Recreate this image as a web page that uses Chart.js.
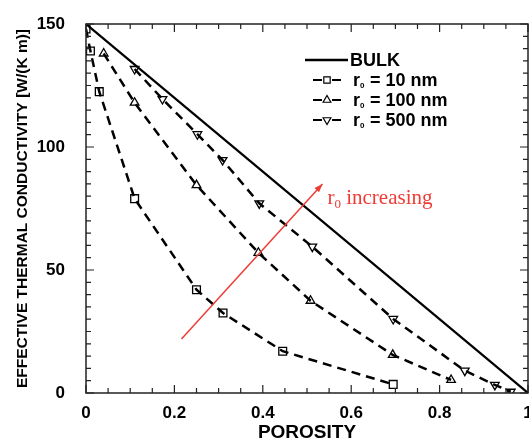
<!DOCTYPE html>
<html>
<head>
<meta charset="utf-8">
<script src="https://cdn.jsdelivr.net/npm/chart.js@4"></script>
<style>
  html, body { margin: 0; padding: 0; background: #fff; overflow: hidden; }
  #wrap { position: relative; width: 529px; height: 442px; }
</style>
</head>
<body>
<div id="wrap"><canvas id="chart"></canvas></div>
<script>
// values
var bulkPorosity = [0, 1];
var bulkK = [150, 0];

var porosity10 = [0, 0.01, 0.03, 0.11, 0.25, 0.31, 0.445, 0.695];
var k10 = [148, 139, 122.5, 79, 42, 32.5, 17, 3.5];

var porosity100 = [0.04, 0.11, 0.25, 0.39, 0.508, 0.694, 0.826];
var k100 = [138, 118, 84.5, 57, 37.5, 15.5, 5.3];

var porosity500 = [0.11, 0.173, 0.252, 0.309, 0.392, 0.512, 0.695, 0.857, 0.925, 0.961];
var k500 = [131.7, 119.5, 105.2, 94.7, 77.1, 59.5, 30.1, 9.1, 3.3, 0.5];

var xTicks = [0, 0.2, 0.4, 0.6, 0.8, 1];
var yTicks = [0, 50, 100, 150];

var arrowFrom = [0.216, 22];
var arrowTo = [0.535, 85];

var fontFamily = "'Liberation Sans', Arial, sans-serif";

function toPoints(xs, ys) {
  return xs.map((x, i) => ({ x: x, y: ys[i] }));
}

function dashed(label, xs, ys, style, rotation) {
  return {
    label: label,
    data: toPoints(xs, ys),
    showLine: true,
    borderColor: "#000",
    borderWidth: 2.5,
    borderDash: [9, 6],
    pointStyle: style,
    rotation: rotation || 0,
    pointRadius: style === "rect" ? 5.5 : 5,
    pointBorderWidth: 1.3,
    pointBorderColor: "#000",
    pointBackgroundColor: "rgba(255,255,255,0)",
    legendStyle: style,
    legendRotation: rotation || 0,
  };
}

// inward tick marks + frame on all four sides
var frameTicks = {
  id: "frameTicks",
  afterDraw(chart) {
    const ctx = chart.ctx;
    const a = chart.chartArea;
    const xs = chart.scales.x, ys = chart.scales.y;
    ctx.save();
    ctx.strokeStyle = "#222";
    ctx.lineWidth = 1.5;
    ctx.strokeRect(a.left, a.top, a.right - a.left, a.bottom - a.top);
    ctx.lineWidth = 1.2;
    ctx.beginPath();
    for (let i = 0; i <= 20; i++) {
      const px = xs.getPixelForValue(i * 0.05);
      const len = i % 4 === 0 ? 8 : 5;
      ctx.moveTo(px, a.bottom); ctx.lineTo(px, a.bottom - len);
      ctx.moveTo(px, a.top); ctx.lineTo(px, a.top + len);
    }
    for (let i = 0; i <= 30; i++) {
      const py = ys.getPixelForValue(i * 5);
      const len = i % 10 === 0 ? 8 : 5;
      ctx.moveTo(a.left, py); ctx.lineTo(a.left + len, py);
      ctx.moveTo(a.right, py); ctx.lineTo(a.right - len, py);
    }
    ctx.stroke();
    ctx.restore();
  }
};

// red arrow with label
var arrowNote = {
  id: "arrowNote",
  afterDatasetsDraw(chart) {
    const ctx = chart.ctx;
    const xs = chart.scales.x, ys = chart.scales.y;
    const x0 = xs.getPixelForValue(arrowFrom[0]), y0 = ys.getPixelForValue(arrowFrom[1]);
    const x1 = xs.getPixelForValue(arrowTo[0]), y1 = ys.getPixelForValue(arrowTo[1]);
    const ang = Math.atan2(y1 - y0, x1 - x0);
    ctx.save();
    ctx.strokeStyle = "#ee3b35";
    ctx.fillStyle = "#ee3b35";
    ctx.lineWidth = 1.5;
    ctx.beginPath();
    ctx.moveTo(x0, y0); ctx.lineTo(x1, y1);
    ctx.stroke();
    ctx.beginPath();
    ctx.moveTo(x1, y1);
    ctx.lineTo(x1 - 9 * Math.cos(ang - 0.35), y1 - 9 * Math.sin(ang - 0.35));
    ctx.lineTo(x1 - 9 * Math.cos(ang + 0.35), y1 - 9 * Math.sin(ang + 0.35));
    ctx.closePath();
    ctx.fill();

    const tx = x1 + 5, ty = y1 + 20;
    ctx.textBaseline = "alphabetic";
    ctx.textAlign = "left";
    ctx.font = "21px 'Liberation Serif', 'Times New Roman', serif";
    ctx.fillText("r", tx, ty);
    let w = ctx.measureText("r").width;
    ctx.font = "13px 'Liberation Serif', 'Times New Roman', serif";
    ctx.fillText("0", tx + w, ty + 4);
    w += ctx.measureText("0").width;
    ctx.font = "21px 'Liberation Serif', 'Times New Roman', serif";
    ctx.fillText(" increasing", tx + w, ty);
    ctx.restore();
  }
};

// legend drawn inside the plot, top right
var insideLegend = {
  id: "insideLegend",
  afterDraw(chart) {
    const ctx = chart.ctx;
    const rows = [60, 80, 100, 120];
    ctx.save();
    ctx.strokeStyle = "#000";
    ctx.textBaseline = "middle";
    ctx.textAlign = "left";
    chart.data.datasets.forEach((ds, i) => {
      const y = rows[i];
      ctx.fillStyle = "#000";
      if (i === 0) {
        ctx.lineWidth = 2.5;
        ctx.beginPath(); ctx.moveTo(305, y); ctx.lineTo(348, y); ctx.stroke();
        ctx.font = "bold 18px " + fontFamily;
        ctx.fillText(ds.label, 350, y + 1);
        return;
      }
      ctx.lineWidth = 2;
      ctx.beginPath();
      ctx.moveTo(313, y); ctx.lineTo(322, y);
      ctx.moveTo(332, y); ctx.lineTo(341, y);
      ctx.stroke();
      ctx.lineWidth = 1.2;
      ctx.fillStyle = "#fff";
      Chart.helpers.drawPoint(ctx, {
        pointStyle: ds.legendStyle, rotation: ds.legendRotation,
        radius: 4.5, borderWidth: 1.2
      }, 327, y);
      // "r" with subscript 0, then the rest of the label
      ctx.fillStyle = "#000";
      ctx.font = "bold 18px " + fontFamily;
      ctx.fillText("r", 353, y + 1);
      let w = ctx.measureText("r").width;
      ctx.font = "bold 8px " + fontFamily;
      ctx.fillText("0", 353 + w, y + 6);
      ctx.font = "bold 18px " + fontFamily;
      ctx.fillText(ds.label.replace("r0", ""), 353 + w + 5, y + 1);
    });
    ctx.restore();
  }
};

new Chart(document.getElementById("chart").getContext("2d"), {
  type: "scatter",
  data: {
    datasets: [
      {
        label: "BULK",
        data: toPoints(bulkPorosity, bulkK),
        showLine: true,
        borderColor: "#000",
        borderWidth: 2.2,
        pointRadius: 0,
      },
      dashed("r0 = 10 nm", porosity10, k10, "rect"),
      dashed("r0 = 100 nm", porosity100, k100, "triangle"),
      dashed("r0 = 500 nm", porosity500, k500, "triangle", 180),
    ]
  },
  options: {
    responsive: true,
    maintainAspectRatio: false,
    animation: false,
    layout: { autoPadding: false, padding: { top: 24, right: 1, left: 0, bottom: 0 } },
    plugins: {
      legend: { display: false },
      tooltip: { enabled: false },
    },
    scales: {
      x: {
        type: "linear",
        min: 0, max: 1,
        grid: { display: false },
        border: { display: false },
        afterBuildTicks: (s) => { s.ticks = xTicks.map(v => ({ value: v })); },
        afterFit: (s) => { s.height = 49; s.paddingLeft = 0; s.paddingRight = 0; },
        ticks: {
          color: "#000",
          padding: 2,
          maxRotation: 0,
          font: { family: fontFamily, size: 17, weight: "bold" },
          callback: (v) => String(v),
        },
        title: {
          display: true,
          text: "POROSITY",
          color: "#000",
          padding: { top: 0, bottom: 0 },
          font: { family: fontFamily, size: 19, weight: "bold", lineHeight: 1 },
        },
      },
      y: {
        type: "linear",
        min: 0, max: 150,
        grid: { display: false },
        border: { display: false },
        afterBuildTicks: (s) => { s.ticks = yTicks.map(v => ({ value: v })); },
        afterFit: (s) => { s.width = 86; s.paddingTop = 0; s.paddingBottom = 0; },
        ticks: {
          color: "#000",
          padding: 13,
          font: { family: fontFamily, size: 17, weight: "bold" },
        },
        title: {
          display: true,
          text: "EFFECTIVE THERMAL CONDUCTIVITY [W/(K m)]",
          color: "#000",
          padding: { top: 15, bottom: 0 },
          font: { family: fontFamily, size: 15.5, weight: "bold", lineHeight: 1 },
        },
      },
    },
  },
  plugins: [frameTicks, arrowNote, insideLegend],
});
</script>
</body>
</html>
